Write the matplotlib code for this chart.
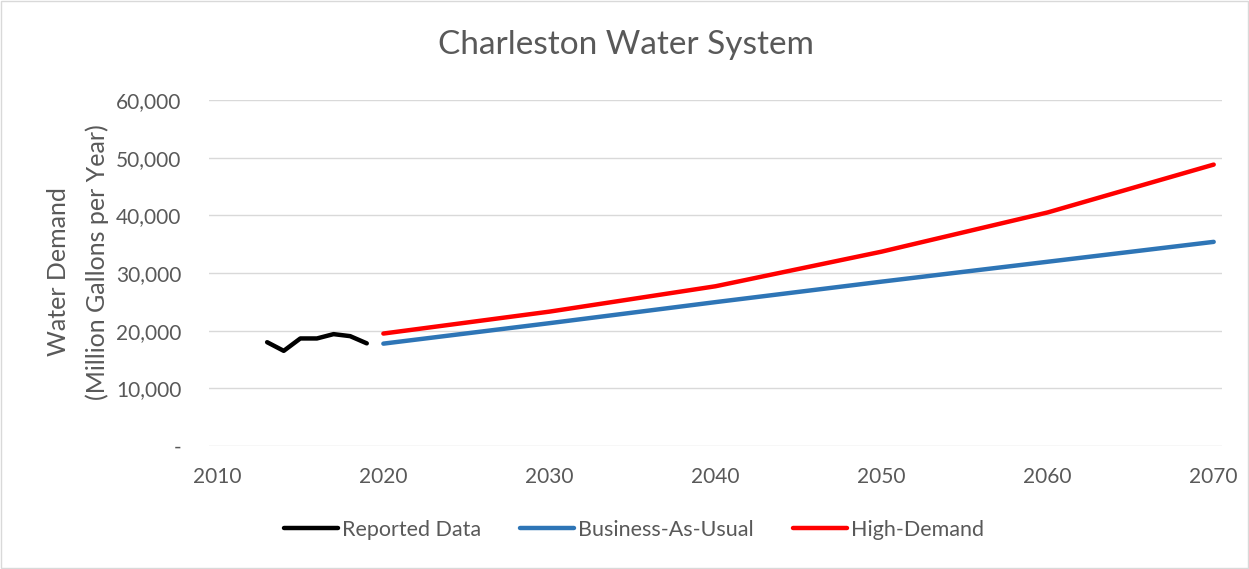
import matplotlib
matplotlib.use("Agg")
import matplotlib.pyplot as plt
from matplotlib.ticker import FuncFormatter

plt.rcParams['font.family'] = ['Lato', 'DejaVu Sans']

reported_years = [2013, 2014, 2015, 2016, 2017, 2018, 2019]
reported_vals = [18000, 16500, 18650, 18650, 19400, 19050, 17800]

proj_years = [2020, 2030, 2040, 2050, 2060, 2070]
bau_vals = [17750, 21300, 24950, 28500, 31950, 35400]
high_vals = [19500, 23300, 27700, 33700, 40500, 48800]

x_ticks = [2010, 2020, 2030, 2040, 2050, 2060, 2070]
y_ticks = [0, 10000, 20000, 30000, 40000, 50000, 60000]

W, H = 1249, 569
fig = plt.figure(figsize=(W / 100, H / 100), dpi=100)
ax = fig.add_axes([209 / W, 1 - 446 / H, (1222 - 209) / W, (446 - 100) / H])

txt = '#595959'
lw = 3.2
ax.plot(reported_years, reported_vals, color='black', lw=lw, solid_capstyle='round', label='Reported Data')
ax.plot(proj_years, bau_vals, color='#2E75B6', lw=lw, solid_capstyle='round', label='Business-As-Usual')
ax.plot(proj_years, high_vals, color='#FF0000', lw=lw, solid_capstyle='round', label='High-Demand')

ax.set_xlim(2009.5, 2070.5)
ax.set_ylim(0, 60000)
ax.set_xticks(x_ticks)
ax.set_yticks(y_ticks)
ax.yaxis.set_major_formatter(FuncFormatter(lambda v, p: '-' if v == 0 else f'{int(v):,}'))
ax.grid(axis='y', color='#D9D9D9', lw=1)
ax.set_axisbelow(True)
for s in ax.spines.values():
    s.set_visible(False)
ax.tick_params(length=0, labelsize=15, colors=txt)
ax.tick_params(axis='y', pad=20)
ax.tick_params(axis='x', pad=15)

fig.text(58 / W, 1 - 272 / H, 'Water Demand', rotation=90, ha='center', va='center', fontsize=18, color=txt)
fig.text(97 / W, 1 - 262 / H, '(Million Gallons per Year)', rotation=90, ha='center', va='center', fontsize=18, color=txt)
fig.text(626 / W, 1 - 45 / H, 'Charleston Water System', ha='center', va='center', fontsize=24, color=txt)

leg = fig.legend(loc='center', bbox_to_anchor=(634 / W, 1 - 530 / H), ncol=3, frameon=False,
                 fontsize=15.5, handlelength=2.5, handletextpad=0.2, columnspacing=1.8)
for t in leg.get_texts():
    t.set_color(txt)

fig.patches.append(plt.Rectangle((0.0008, 0.0018), 0.9984, 0.9964, transform=fig.transFigure,
                                 fill=False, edgecolor='#D9D9D9', lw=1))

fig.savefig('out.png', dpi=100)
